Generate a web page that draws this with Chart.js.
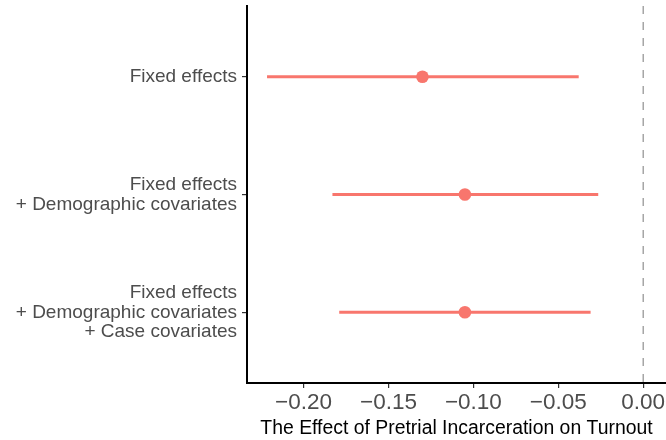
<!DOCTYPE html>
<html>
<head>
<meta charset="utf-8">
<script src="https://cdn.jsdelivr.net/npm/chart.js@4"></script>
<style>
  html, body { margin: 0; padding: 0; background: #ffffff; }
  #wrap { width: 666px; height: 440px; }
</style>
</head>
<body>
<div id="wrap"><canvas id="c" width="666" height="440"></canvas></div>
<script>
const models = [
  ["Fixed effects"],
  ["Fixed effects", "+ Demographic covariates"],
  ["Fixed effects", "+ Demographic covariates", "+ Case covariates"]
];
const estimates = [-0.130, -0.105, -0.105];
const lowerCI = [-0.2215, -0.183, -0.179];
const upperCI = [-0.038, -0.0265, -0.031];
const xTickValues = [-0.20, -0.15, -0.10, -0.05, 0.00];
const referenceValue = 0;

const salmon = '#F8766D';
const FONT = "'Liberation Sans', Arial, Helvetica, sans-serif";

const datasets = [];
datasets.push({
  data: [{x: referenceValue, y: 0.4}, {x: referenceValue, y: 3.6}],
  showLine: true,
  borderColor: '#a6a6a6',
  borderWidth: 1.5,
  borderDash: [8, 8],
  pointRadius: 0,
  order: 10
});
models.forEach((m, i) => {
  datasets.push({
    data: [{x: lowerCI[i], y: i + 1}, {x: upperCI[i], y: i + 1}],
    showLine: true,
    borderColor: salmon,
    borderWidth: 3,
    pointRadius: 0,
    order: 5
  });
});
datasets.push({
  data: estimates.map((v, i) => ({x: v, y: i + 1})),
  showLine: false,
  backgroundColor: salmon,
  borderColor: salmon,
  pointRadius: 6.3,
  borderWidth: 0,
  order: 1
});

new Chart(document.getElementById('c'), {
  type: 'scatter',
  data: { datasets },
  options: {
    responsive: false,
    animation: false,
    devicePixelRatio: 1,
    layout: { autoPadding: false, padding: { top: 6, right: 0, left: 0, bottom: 0 } },
    plugins: { legend: { display: false }, tooltip: { enabled: false } },
    scales: {
      x: {
        type: 'linear',
        min: -0.2333,
        max: 0.0134,
        afterBuildTicks: s => { s.ticks = xTickValues.map(v => ({value: v})); },
        afterFit: s => { s.height = 57; s.paddingLeft = 0; s.paddingRight = 0; },
        ticks: {
          callback: v => Number(v).toFixed(2).replace('-', '\u2212'),
          color: '#4d4d4d',
          font: { family: FONT, size: 22.5 },
          padding: 1,
          maxRotation: 0,
          autoSkip: false
        },
        grid: { display: true, drawOnChartArea: false, drawTicks: true, tickLength: 5, color: '#333333', lineWidth: 1.2 },
        border: { display: true, color: '#000000', width: 2 },
        title: {
          display: true,
          text: 'The Effect of Pretrial Incarceration on Turnout',
          color: '#000000',
          font: { family: FONT, size: 19.4 },
          padding: { top: 0, bottom: 0 }
        }
      },
      y: {
        type: 'linear',
        reverse: true,
        min: 0.4,
        max: 3.6,
        afterBuildTicks: s => { s.ticks = [1, 2, 3].map(v => ({value: v})); },
        afterFit: s => { s.width = 247; s.paddingTop = 0; s.paddingBottom = 0; },
        ticks: {
          callback: v => models[Math.round(v) - 1],
          color: '#4d4d4d',
          font: { family: FONT, size: 19, lineHeight: 1.05 },
          padding: 5,
          autoSkip: false
        },
        grid: { display: true, drawOnChartArea: false, drawTicks: true, tickLength: 5, color: '#333333', lineWidth: 1.2 },
        border: { display: true, color: '#000000', width: 2 }
      }
    }
  }
});
</script>
</body>
</html>
